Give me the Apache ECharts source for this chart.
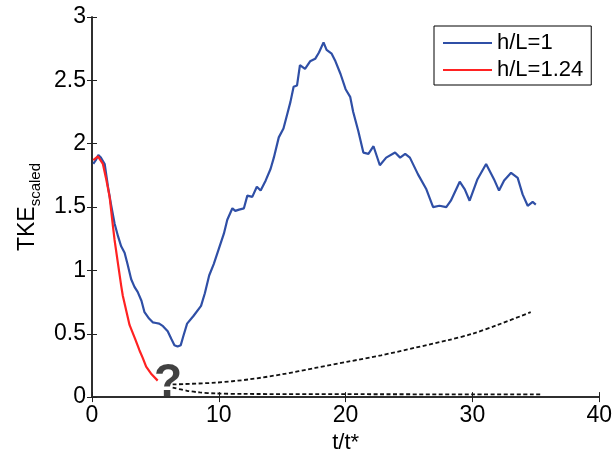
<!DOCTYPE html>
<html>
<head>
<meta charset="utf-8">
<script src="https://cdn.jsdelivr.net/npm/echarts@6/dist/echarts.min.js"></script>
<style>
html,body{margin:0;padding:0;background:#fff;}
#chart{width:615px;height:459px;}
</style>
</head>
<body>
<div id="chart"></div>
<script>
// ---- data ----
var xTicks = [0, 10, 20, 30, 40];
var yTicks = ['0', '0.5', '1', '1.5', '2', '2.5', '3'];
var seriesNames = ['h/L=1', 'h/L=1.24'];

var blueT = [0.1,0.3,0.5,0.7,1.0,1.26,1.5,1.78,2.05,2.3,2.57,2.8,3.09,3.35,3.6,3.9,4.14,4.5,4.79,5.05,5.3,5.6,5.97,6.25,6.5,6.75,7.0,7.2,7.5,8.0,8.6,8.9,9.24,9.6,10.0,10.4,10.67,11.07,11.3,11.6,11.98,12.25,12.64,13.0,13.3,13.7,14.08,14.34,14.73,15.1,15.39,15.65,15.9,16.17,16.4,16.8,17.2,17.6,17.9,18.26,18.5,18.9,19.2,19.6,20.0,20.36,20.6,21.0,21.4,21.8,22.2,22.7,23.2,23.9,24.3,24.7,25.07,25.7,26.37,26.9,27.4,27.94,28.3,29.0,29.4,29.78,30.4,31.08,31.7,32.1,32.5,33.05,33.57,33.96,34.36,34.75,35.0];
var blueTKE = [1.84,1.87,1.91,1.89,1.84,1.66,1.52,1.37,1.27,1.19,1.14,1.05,0.93,0.87,0.83,0.76,0.67,0.62,0.59,0.585,0.58,0.56,0.52,0.46,0.41,0.40,0.41,0.48,0.58,0.64,0.72,0.82,0.96,1.05,1.17,1.29,1.40,1.49,1.47,1.48,1.49,1.59,1.58,1.66,1.63,1.71,1.80,1.89,2.05,2.12,2.23,2.33,2.45,2.46,2.62,2.59,2.65,2.67,2.72,2.80,2.74,2.71,2.65,2.55,2.43,2.37,2.25,2.10,1.93,1.92,1.98,1.83,1.89,1.93,1.89,1.92,1.89,1.76,1.64,1.50,1.51,1.50,1.55,1.70,1.64,1.55,1.72,1.84,1.72,1.63,1.71,1.77,1.73,1.60,1.51,1.54,1.52];

var redT = [0.1,0.47,0.86,1.1,1.39,1.65,1.78,2.04,2.3,2.43,2.96,3.4,3.74,4.0,4.27,4.7,5.18];
var redTKE = [1.87,1.90,1.84,1.73,1.58,1.35,1.24,1.06,0.88,0.80,0.57,0.46,0.37,0.31,0.24,0.18,0.13];

var upperT = [6.36,9.76,12.4,15,17.6,20.2,22.8,25.5,28.1,30,32,34.6];
var upperTKE = [0.10,0.114,0.14,0.18,0.23,0.28,0.33,0.39,0.45,0.50,0.57,0.67];

var lowerT = [6.36,7.5,8.5,9.76,12,20,30,35.4];
var lowerTKE = [0.075,0.05,0.037,0.029,0.025,0.023,0.022,0.022];

var questionMark = [6.0, 0.11];

function pairs(xs, ys){ return xs.map(function(x,i){ return [x, ys[i]]; }); }

var FONT = 'Liberation Sans, Arial, sans-serif';
var axisLineStyle = {color:'#222', width:1.5};

var chart = echarts.init(document.getElementById('chart'), null, {renderer:'canvas'});
chart.setOption({
  animation:false,
  backgroundColor:'#fff',
  grid:{left:92, right:13, top:17, bottom:56},
  legend:{
    data: seriesNames,
    orient:'vertical',
    left:434, top:26,
    padding:[6,8,4,9],
    itemGap:5,
    itemWidth:49, itemHeight:2,
    icon:'rect',
    borderColor:'#000', borderWidth:1,
    backgroundColor:'#fff',
    textStyle:{fontFamily:FONT, fontSize:22, color:'#000', lineHeight:22}
  },
  xAxis:[{
    type:'value', min:0, max:40, interval:10,
    name:'t/t*', nameLocation:'middle', nameGap:29,
    nameTextStyle:{fontFamily:FONT, fontSize:22, color:'#000'},
    axisLine:{show:true, lineStyle:axisLineStyle},
    axisTick:{show:true, inside:true, length:5, lineStyle:{color:'#222'}},
    axisLabel:{fontFamily:FONT, fontSize:23, color:'#000', margin:7},
    splitLine:{show:false}
  },{
    type:'value', min:0, max:40, interval:10, position:'top',
    axisLine:{show:true, lineStyle:axisLineStyle},
    axisTick:{show:true, inside:true, length:5, lineStyle:{color:'#222'}},
    axisLabel:{show:false}, splitLine:{show:false}
  }],
  yAxis:[{
    type:'value', min:0, max:3, interval:0.5,
    name:'{a|TKE}{b|scaled}', nameLocation:'middle', nameGap:46, nameRotate:90,
    nameTextStyle:{
      rich:{
        a:{fontFamily:FONT, fontSize:23, color:'#000', lineHeight:30},
        b:{fontFamily:FONT, fontSize:15, color:'#000', lineHeight:14, verticalAlign:'bottom'}
      }
    },
    axisLine:{show:true, lineStyle:axisLineStyle},
    axisTick:{show:true, inside:true, length:5, lineStyle:{color:'#222'}},
    axisLabel:{fontFamily:FONT, fontSize:23, color:'#000', margin:6},
    splitLine:{show:false}
  },{
    type:'value', min:0, max:3, interval:0.5, position:'right',
    axisLine:{show:true, lineStyle:axisLineStyle},
    axisTick:{show:true, inside:true, length:5, lineStyle:{color:'#222'}},
    axisLabel:{show:false}, splitLine:{show:false}
  }],
  series:[{
    name: seriesNames[0], type:'line', data: pairs(blueT, blueTKE),
    showSymbol:false, symbol:'none', color:'#2f4fa6',
    lineStyle:{color:'#2f4fa6', width:2.2}, z:3
  },{
    name: seriesNames[1], type:'line', data: pairs(redT, redTKE),
    showSymbol:false, symbol:'none', color:'#ff2222',
    lineStyle:{color:'#ff2222', width:2.2}, z:4
  },{
    name:'upper', type:'line', data: pairs(upperT, upperTKE),
    showSymbol:false, symbol:'none', smooth:0.3,
    lineStyle:{color:'#111', width:1.8, type:[4,2.5]}
  },{
    name:'lower', type:'line', data: pairs(lowerT, lowerTKE),
    showSymbol:false, symbol:'none', smooth:0.3,
    lineStyle:{color:'#111', width:1.8, type:[4,2.5]}
  },{
    name:'qmark', type:'scatter', data:[questionMark],
    symbolSize:0, silent:true, z:5,
    label:{show:true, position:'inside', formatter:'?',
      fontFamily:FONT, fontWeight:'bold', fontSize:46, color:'#111'}
  }]
});
</script>
</body>
</html>
